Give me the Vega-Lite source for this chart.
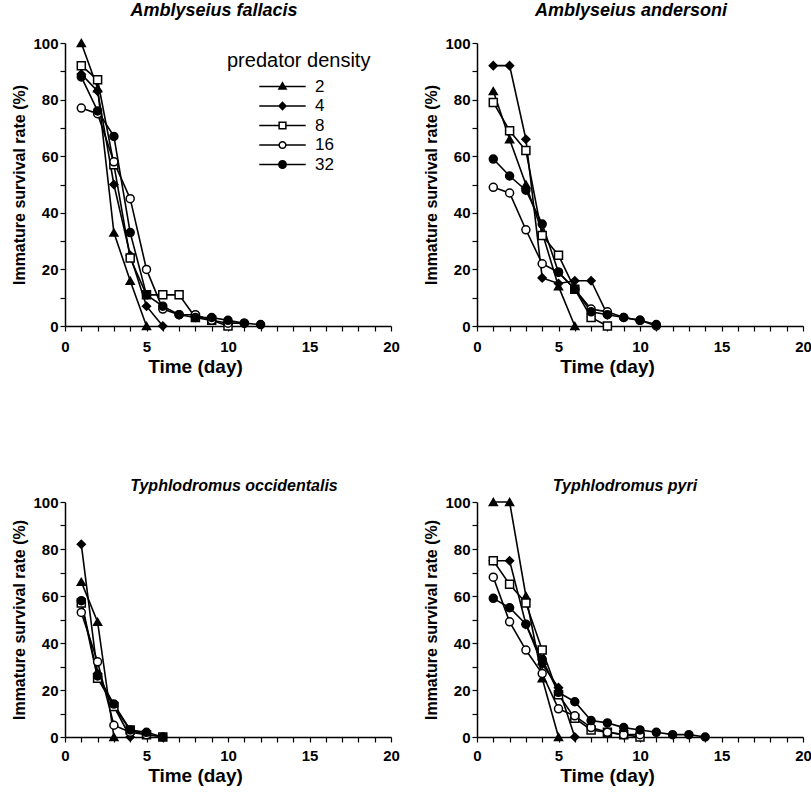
{
  "$schema": "https://vega.github.io/schema/vega-lite/v6.json",
  "padding": {"left": 11, "top": 2, "right": 4, "bottom": 4},
  "bounds": "flush",
  "columns": 2,
  "spacing": {"column": 86, "row": 176},
  "config": {
    "view": {"stroke": null},
    "font": "Liberation Sans",
    "axis": {"grid": false, "domainColor": "black", "domainWidth": 1.5, "tickColor": "black", "tickWidth": 1.2, "tickSize": 5, "labelColor": "black", "labelFontSize": 15, "labelFontWeight": "bold", "labelFont": "Liberation Sans", "titleColor": "black", "titleFontSize": 16, "titleFontWeight": "bold", "titleFont": "Liberation Sans", "labelFlush": false, "labelOverlap": false},
    "axisX": {"labelPadding": 8, "titlePadding": 3, "titleFontSize": 19, "titleX": 130},
    "axisY": {"labelPadding": 2, "titlePadding": 5},
    "title": {"fontSize": 18, "fontWeight": "bold", "fontStyle": "italic", "font": "Liberation Sans", "offset": 16, "color": "black"}
  },
  "resolve": {"legend": {"shape": "independent", "fill": "independent"}},
  "datasets": {
    "mites": [
      {"s": "A. fallacis", "d": 2, "t": 1, "r": 100}, {"s": "A. fallacis", "d": 2, "t": 2, "r": 84}, {"s": "A. fallacis", "d": 2, "t": 3, "r": 33}, {"s": "A. fallacis", "d": 2, "t": 4, "r": 16}, {"s": "A. fallacis", "d": 2, "t": 5, "r": 0},
      {"s": "A. fallacis", "d": 4, "t": 1, "r": 89}, {"s": "A. fallacis", "d": 4, "t": 2, "r": 83}, {"s": "A. fallacis", "d": 4, "t": 3, "r": 50}, {"s": "A. fallacis", "d": 4, "t": 4, "r": 25}, {"s": "A. fallacis", "d": 4, "t": 5, "r": 7}, {"s": "A. fallacis", "d": 4, "t": 6, "r": 0},
      {"s": "A. fallacis", "d": 8, "t": 1, "r": 92}, {"s": "A. fallacis", "d": 8, "t": 2, "r": 87}, {"s": "A. fallacis", "d": 8, "t": 3, "r": 57}, {"s": "A. fallacis", "d": 8, "t": 4, "r": 24}, {"s": "A. fallacis", "d": 8, "t": 5, "r": 11}, {"s": "A. fallacis", "d": 8, "t": 6, "r": 11}, {"s": "A. fallacis", "d": 8, "t": 7, "r": 11}, {"s": "A. fallacis", "d": 8, "t": 8, "r": 3}, {"s": "A. fallacis", "d": 8, "t": 9, "r": 2}, {"s": "A. fallacis", "d": 8, "t": 10, "r": 0},
      {"s": "A. fallacis", "d": 16, "t": 1, "r": 77}, {"s": "A. fallacis", "d": 16, "t": 2, "r": 75}, {"s": "A. fallacis", "d": 16, "t": 3, "r": 58}, {"s": "A. fallacis", "d": 16, "t": 4, "r": 45}, {"s": "A. fallacis", "d": 16, "t": 5, "r": 20}, {"s": "A. fallacis", "d": 16, "t": 6, "r": 6}, {"s": "A. fallacis", "d": 16, "t": 7, "r": 4}, {"s": "A. fallacis", "d": 16, "t": 8, "r": 4}, {"s": "A. fallacis", "d": 16, "t": 9, "r": 2}, {"s": "A. fallacis", "d": 16, "t": 10, "r": 1}, {"s": "A. fallacis", "d": 16, "t": 11, "r": 1},
      {"s": "A. fallacis", "d": 32, "t": 1, "r": 88}, {"s": "A. fallacis", "d": 32, "t": 2, "r": 76}, {"s": "A. fallacis", "d": 32, "t": 3, "r": 67}, {"s": "A. fallacis", "d": 32, "t": 4, "r": 33}, {"s": "A. fallacis", "d": 32, "t": 5, "r": 11}, {"s": "A. fallacis", "d": 32, "t": 6, "r": 7}, {"s": "A. fallacis", "d": 32, "t": 7, "r": 4}, {"s": "A. fallacis", "d": 32, "t": 8, "r": 3}, {"s": "A. fallacis", "d": 32, "t": 9, "r": 3}, {"s": "A. fallacis", "d": 32, "t": 10, "r": 2}, {"s": "A. fallacis", "d": 32, "t": 11, "r": 1}, {"s": "A. fallacis", "d": 32, "t": 12, "r": 0.5},

      {"s": "A. andersoni", "d": 2, "t": 1, "r": 83}, {"s": "A. andersoni", "d": 2, "t": 2, "r": 66}, {"s": "A. andersoni", "d": 2, "t": 3, "r": 50}, {"s": "A. andersoni", "d": 2, "t": 4, "r": 33}, {"s": "A. andersoni", "d": 2, "t": 5, "r": 14}, {"s": "A. andersoni", "d": 2, "t": 6, "r": 0},
      {"s": "A. andersoni", "d": 4, "t": 1, "r": 92}, {"s": "A. andersoni", "d": 4, "t": 2, "r": 92}, {"s": "A. andersoni", "d": 4, "t": 3, "r": 66}, {"s": "A. andersoni", "d": 4, "t": 4, "r": 17}, {"s": "A. andersoni", "d": 4, "t": 5, "r": 15}, {"s": "A. andersoni", "d": 4, "t": 6, "r": 16}, {"s": "A. andersoni", "d": 4, "t": 7, "r": 16}, {"s": "A. andersoni", "d": 4, "t": 8, "r": 4},
      {"s": "A. andersoni", "d": 8, "t": 1, "r": 79}, {"s": "A. andersoni", "d": 8, "t": 2, "r": 69}, {"s": "A. andersoni", "d": 8, "t": 3, "r": 62}, {"s": "A. andersoni", "d": 8, "t": 4, "r": 32}, {"s": "A. andersoni", "d": 8, "t": 5, "r": 25}, {"s": "A. andersoni", "d": 8, "t": 6, "r": 13}, {"s": "A. andersoni", "d": 8, "t": 7, "r": 3}, {"s": "A. andersoni", "d": 8, "t": 8, "r": 0},
      {"s": "A. andersoni", "d": 16, "t": 1, "r": 49}, {"s": "A. andersoni", "d": 16, "t": 2, "r": 47}, {"s": "A. andersoni", "d": 16, "t": 3, "r": 34}, {"s": "A. andersoni", "d": 16, "t": 4, "r": 22}, {"s": "A. andersoni", "d": 16, "t": 5, "r": 19}, {"s": "A. andersoni", "d": 16, "t": 6, "r": 13}, {"s": "A. andersoni", "d": 16, "t": 7, "r": 6}, {"s": "A. andersoni", "d": 16, "t": 8, "r": 5}, {"s": "A. andersoni", "d": 16, "t": 9, "r": 3}, {"s": "A. andersoni", "d": 16, "t": 10, "r": 2}, {"s": "A. andersoni", "d": 16, "t": 11, "r": 0},
      {"s": "A. andersoni", "d": 32, "t": 1, "r": 59}, {"s": "A. andersoni", "d": 32, "t": 2, "r": 53}, {"s": "A. andersoni", "d": 32, "t": 3, "r": 48}, {"s": "A. andersoni", "d": 32, "t": 4, "r": 36}, {"s": "A. andersoni", "d": 32, "t": 5, "r": 19}, {"s": "A. andersoni", "d": 32, "t": 6, "r": 13}, {"s": "A. andersoni", "d": 32, "t": 7, "r": 5}, {"s": "A. andersoni", "d": 32, "t": 8, "r": 4}, {"s": "A. andersoni", "d": 32, "t": 9, "r": 3}, {"s": "A. andersoni", "d": 32, "t": 10, "r": 2}, {"s": "A. andersoni", "d": 32, "t": 11, "r": 0.5},

      {"s": "T. occidentalis", "d": 2, "t": 1, "r": 66}, {"s": "T. occidentalis", "d": 2, "t": 2, "r": 49}, {"s": "T. occidentalis", "d": 2, "t": 3, "r": 0},
      {"s": "T. occidentalis", "d": 4, "t": 1, "r": 82}, {"s": "T. occidentalis", "d": 4, "t": 2, "r": 27}, {"s": "T. occidentalis", "d": 4, "t": 3, "r": 13}, {"s": "T. occidentalis", "d": 4, "t": 4, "r": 0},
      {"s": "T. occidentalis", "d": 8, "t": 1, "r": 57}, {"s": "T. occidentalis", "d": 8, "t": 2, "r": 25}, {"s": "T. occidentalis", "d": 8, "t": 3, "r": 13}, {"s": "T. occidentalis", "d": 8, "t": 4, "r": 3}, {"s": "T. occidentalis", "d": 8, "t": 5, "r": 1}, {"s": "T. occidentalis", "d": 8, "t": 6, "r": 0},
      {"s": "T. occidentalis", "d": 16, "t": 1, "r": 53}, {"s": "T. occidentalis", "d": 16, "t": 2, "r": 32}, {"s": "T. occidentalis", "d": 16, "t": 3, "r": 5}, {"s": "T. occidentalis", "d": 16, "t": 4, "r": 2}, {"s": "T. occidentalis", "d": 16, "t": 5, "r": 1},
      {"s": "T. occidentalis", "d": 32, "t": 1, "r": 58}, {"s": "T. occidentalis", "d": 32, "t": 2, "r": 26}, {"s": "T. occidentalis", "d": 32, "t": 3, "r": 14}, {"s": "T. occidentalis", "d": 32, "t": 4, "r": 3}, {"s": "T. occidentalis", "d": 32, "t": 5, "r": 2}, {"s": "T. occidentalis", "d": 32, "t": 6, "r": 0},

      {"s": "T. pyri", "d": 2, "t": 1, "r": 100}, {"s": "T. pyri", "d": 2, "t": 2, "r": 100}, {"s": "T. pyri", "d": 2, "t": 3, "r": 60}, {"s": "T. pyri", "d": 2, "t": 4, "r": 25}, {"s": "T. pyri", "d": 2, "t": 5, "r": 0},
      {"s": "T. pyri", "d": 4, "t": 1, "r": 75}, {"s": "T. pyri", "d": 4, "t": 2, "r": 75}, {"s": "T. pyri", "d": 4, "t": 3, "r": 48}, {"s": "T. pyri", "d": 4, "t": 4, "r": 31}, {"s": "T. pyri", "d": 4, "t": 5, "r": 21}, {"s": "T. pyri", "d": 4, "t": 6, "r": 0},
      {"s": "T. pyri", "d": 8, "t": 1, "r": 75}, {"s": "T. pyri", "d": 8, "t": 2, "r": 65}, {"s": "T. pyri", "d": 8, "t": 3, "r": 57}, {"s": "T. pyri", "d": 8, "t": 4, "r": 37}, {"s": "T. pyri", "d": 8, "t": 5, "r": 18}, {"s": "T. pyri", "d": 8, "t": 6, "r": 8}, {"s": "T. pyri", "d": 8, "t": 7, "r": 3}, {"s": "T. pyri", "d": 8, "t": 8, "r": 2}, {"s": "T. pyri", "d": 8, "t": 9, "r": 1}, {"s": "T. pyri", "d": 8, "t": 10, "r": 0},
      {"s": "T. pyri", "d": 16, "t": 1, "r": 68}, {"s": "T. pyri", "d": 16, "t": 2, "r": 49}, {"s": "T. pyri", "d": 16, "t": 3, "r": 37}, {"s": "T. pyri", "d": 16, "t": 4, "r": 27}, {"s": "T. pyri", "d": 16, "t": 5, "r": 12}, {"s": "T. pyri", "d": 16, "t": 6, "r": 9}, {"s": "T. pyri", "d": 16, "t": 7, "r": 4}, {"s": "T. pyri", "d": 16, "t": 8, "r": 2}, {"s": "T. pyri", "d": 16, "t": 9, "r": 1}, {"s": "T. pyri", "d": 16, "t": 10, "r": 1},
      {"s": "T. pyri", "d": 32, "t": 1, "r": 59}, {"s": "T. pyri", "d": 32, "t": 2, "r": 55}, {"s": "T. pyri", "d": 32, "t": 3, "r": 48}, {"s": "T. pyri", "d": 32, "t": 4, "r": 33}, {"s": "T. pyri", "d": 32, "t": 5, "r": 19}, {"s": "T. pyri", "d": 32, "t": 6, "r": 15}, {"s": "T. pyri", "d": 32, "t": 7, "r": 7}, {"s": "T. pyri", "d": 32, "t": 8, "r": 6}, {"s": "T. pyri", "d": 32, "t": 9, "r": 4}, {"s": "T. pyri", "d": 32, "t": 10, "r": 3}, {"s": "T. pyri", "d": 32, "t": 11, "r": 2}, {"s": "T. pyri", "d": 32, "t": 12, "r": 1}, {"s": "T. pyri", "d": 32, "t": 13, "r": 1}, {"s": "T. pyri", "d": 32, "t": 14, "r": 0}
    ]
  },
  "data": {"name": "mites"},
  "concat": [
    {
      "title": {"text": "Amblyseius fallacis", "dx": -14},
      "width": 326, "height": 283,
      "transform": [{"filter": "datum.s == 'A. fallacis'"}],
      "encoding": {
        "x": {"field": "t", "type": "quantitative", "title": "Time (day)", "scale": {"domain": [0, 20], "nice": false}, "axis": {"values": [0,1,2,3,4,5,6,7,8,9,10,11,12,13,14,15,16,17,18,19,20], "labelExpr": "datum.value % 5 == 0 ? datum.label : ''"}},
        "y": {"field": "r", "type": "quantitative", "title": "Immature survival rate (%)", "scale": {"domain": [0, 100], "nice": false}, "axis": {"values": [0,10,20,30,40,50,60,70,80,90,100], "labelExpr": "datum.value % 20 == 0 ? datum.label : ''"}}
      },
      "layer": [
        {"mark": {"type": "line", "color": "black", "strokeWidth": 1.6}, "encoding": {"detail": {"field": "d", "type": "nominal"}}},
        {"mark": {"type": "point", "filled": true, "stroke": "black", "strokeWidth": 1.5, "size": 64, "opacity": 1},
         "encoding": {
           "shape": {"field": "d", "type": "nominal", "scale": {"domain": [2, 4, 8, 16, 32], "range": ["triangle-up", "diamond", "square", "circle", "circle"]}, "legend": null},
           "fill": {"field": "d", "type": "nominal", "scale": {"domain": [2, 4, 8, 16, 32], "range": ["black", "black", "white", "white", "black"]}, "legend": null}
         }},
        {"transform": [{"filter": "datum.t < 0"}],
         "mark": {"type": "point", "filled": true, "color": "black", "strokeWidth": 0, "size": 56, "opacity": 1},
         "encoding": {
           "shape": {"field": "d", "type": "nominal", "scale": {"domain": [2, 4, 8, 16, 32], "range": [
             "M-6.2,-0.2L6.2,-0.2L6.2,0.2L-6.2,0.2Z M0,-1.4L1.3,0.9L-1.3,0.9Z",
             "M-6.2,-0.2L6.2,-0.2L6.2,0.2L-6.2,0.2Z M0,-1.3L1.2,0L0,1.3L-1.2,0Z",
             "M-6.2,-0.2L-1.1,-0.2L-1.1,0.2L-6.2,0.2Z M1.1,-0.2L6.2,-0.2L6.2,0.2L1.1,0.2Z M-1.1,-1.1L1.1,-1.1L1.1,1.1L-1.1,1.1Z M-0.7,-0.7L-0.7,0.7L0.7,0.7L0.7,-0.7Z",
             "M-6.2,-0.2L-1.08,-0.2L-1.08,0.2L-6.2,0.2Z M1.08,-0.2L6.2,-0.2L6.2,0.2L1.08,0.2Z M-1.1,0A1.1,1.1,0,1,1,1.1,0A1.1,1.1,0,1,1,-1.1,0Z M-0.7,0A0.7,0.7,0,1,0,0.7,0A0.7,0.7,0,1,0,-0.7,0Z",
             "M-6.2,-0.2L6.2,-0.2L6.2,0.2L-6.2,0.2Z M-1.2,0A1.2,1.2,0,1,1,1.2,0A1.2,1.2,0,1,1,-1.2,0Z"]},
             "legend": {"title": "predator density", "orient": "none", "legendX": 162, "legendY": 8, "padding": 0, "titleFontSize": 20, "titleFontWeight": "normal", "titleColor": "black", "titlePadding": 7, "labelFontSize": 17, "labelColor": "black", "labelFont": "Liberation Sans", "symbolSize": 56, "symbolStrokeWidth": 0, "symbolFillColor": "black", "symbolOpacity": 1, "symbolOffset": 47, "labelOffset": 24, "rowPadding": 1.5}}
         }}
      ],
      "resolve": {"scale": {"shape": "independent", "fill": "independent"}}
    },
    {
      "title": {"text": "Amblyseius andersoni", "dx": -9},
      "width": 326, "height": 283,
      "transform": [{"filter": "datum.s == 'A. andersoni'"}],
      "encoding": {
        "x": {"field": "t", "type": "quantitative", "title": "Time (day)", "scale": {"domain": [0, 20], "nice": false}, "axis": {"values": [0,1,2,3,4,5,6,7,8,9,10,11,12,13,14,15,16,17,18,19,20], "labelExpr": "datum.value % 5 == 0 ? datum.label : ''"}},
        "y": {"field": "r", "type": "quantitative", "title": "Immature survival rate (%)", "scale": {"domain": [0, 100], "nice": false}, "axis": {"values": [0,10,20,30,40,50,60,70,80,90,100], "labelExpr": "datum.value % 20 == 0 ? datum.label : ''"}}
      },
      "layer": [
        {"mark": {"type": "line", "color": "black", "strokeWidth": 1.6}, "encoding": {"detail": {"field": "d", "type": "nominal"}}},
        {"mark": {"type": "point", "filled": true, "stroke": "black", "strokeWidth": 1.5, "size": 64, "opacity": 1},
         "encoding": {
           "shape": {"field": "d", "type": "nominal", "scale": {"domain": [2, 4, 8, 16, 32], "range": ["triangle-up", "diamond", "square", "circle", "circle"]}, "legend": null},
           "fill": {"field": "d", "type": "nominal", "scale": {"domain": [2, 4, 8, 16, 32], "range": ["black", "black", "white", "white", "black"]}, "legend": null}
         }}
      ]
    },
    {
      "title": {"text": "Typhlodromus occidentalis", "dx": 6, "offset": 1, "frame": "group", "fontSize": 16},
      "width": 326, "height": 235,
      "transform": [{"filter": "datum.s == 'T. occidentalis'"}],
      "encoding": {
        "x": {"field": "t", "type": "quantitative", "title": "Time (day)", "scale": {"domain": [0, 20], "nice": false}, "axis": {"values": [0,1,2,3,4,5,6,7,8,9,10,11,12,13,14,15,16,17,18,19,20], "labelExpr": "datum.value % 5 == 0 ? datum.label : ''", "labelPadding": 6}},
        "y": {"field": "r", "type": "quantitative", "title": "Immature survival rate (%)", "scale": {"domain": [0, 100], "nice": false}, "axis": {"values": [0,10,20,30,40,50,60,70,80,90,100], "labelExpr": "datum.value % 20 == 0 ? datum.label : ''"}}
      },
      "layer": [
        {"mark": {"type": "line", "color": "black", "strokeWidth": 1.6}, "encoding": {"detail": {"field": "d", "type": "nominal"}}},
        {"mark": {"type": "point", "filled": true, "stroke": "black", "strokeWidth": 1.5, "size": 64, "opacity": 1},
         "encoding": {
           "shape": {"field": "d", "type": "nominal", "scale": {"domain": [2, 4, 8, 16, 32], "range": ["triangle-up", "diamond", "square", "circle", "circle"]}, "legend": null},
           "fill": {"field": "d", "type": "nominal", "scale": {"domain": [2, 4, 8, 16, 32], "range": ["black", "black", "white", "white", "black"]}, "legend": null}
         }}
      ]
    },
    {
      "title": {"text": "Typhlodromus pyri", "dx": -15, "offset": 1, "frame": "group", "fontSize": 16},
      "width": 326, "height": 235,
      "transform": [{"filter": "datum.s == 'T. pyri'"}],
      "encoding": {
        "x": {"field": "t", "type": "quantitative", "title": "Time (day)", "scale": {"domain": [0, 20], "nice": false}, "axis": {"values": [0,1,2,3,4,5,6,7,8,9,10,11,12,13,14,15,16,17,18,19,20], "labelExpr": "datum.value % 5 == 0 ? datum.label : ''", "labelPadding": 6}},
        "y": {"field": "r", "type": "quantitative", "title": "Immature survival rate (%)", "scale": {"domain": [0, 100], "nice": false}, "axis": {"values": [0,10,20,30,40,50,60,70,80,90,100], "labelExpr": "datum.value % 20 == 0 ? datum.label : ''"}}
      },
      "layer": [
        {"mark": {"type": "line", "color": "black", "strokeWidth": 1.6}, "encoding": {"detail": {"field": "d", "type": "nominal"}}},
        {"mark": {"type": "point", "filled": true, "stroke": "black", "strokeWidth": 1.5, "size": 64, "opacity": 1},
         "encoding": {
           "shape": {"field": "d", "type": "nominal", "scale": {"domain": [2, 4, 8, 16, 32], "range": ["triangle-up", "diamond", "square", "circle", "circle"]}, "legend": null},
           "fill": {"field": "d", "type": "nominal", "scale": {"domain": [2, 4, 8, 16, 32], "range": ["black", "black", "white", "white", "black"]}, "legend": null}
         }}
      ]
    }
  ]
}
